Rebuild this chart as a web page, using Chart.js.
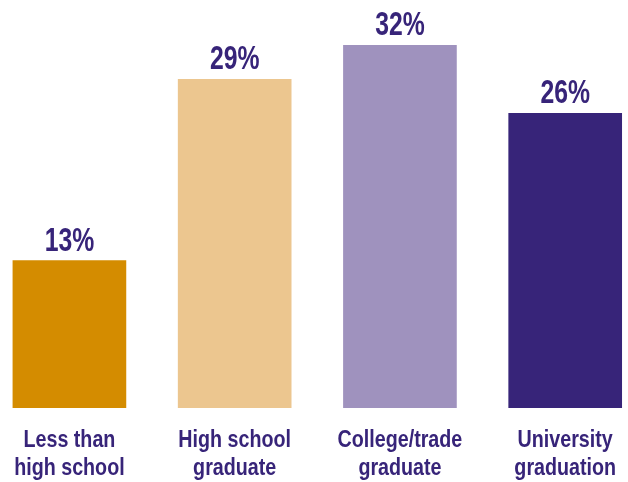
<!DOCTYPE html>
<html>
<head>
<meta charset="utf-8">
<script src="https://cdn.jsdelivr.net/npm/chart.js@4/dist/chart.umd.min.js"></script>
<style>
  html, body { margin: 0; padding: 0; background: #fff; }
  #wrap { width: 628px; height: 482px; }
</style>
</head>
<body>
<div id="wrap"><canvas id="bars"></canvas></div>
<script>
const categories = [
  ['Less than', 'high school'],
  ['High school', 'graduate'],
  ['College/trade', 'graduate'],
  ['University', 'graduation']
];
const shares = [13, 29, 32, 26];
const barColors = ['#D48C00', '#ECC68F', '#9F92BE', '#372479'];

const textColor = '#372479';
const fontFamily = "'Liberation Sans', Arial, sans-serif";

// no condensed face installed, so squeeze the text horizontally
function narrowText(ctx, text, x, y, squeeze) {
  ctx.save();
  ctx.translate(x, y);
  ctx.scale(squeeze, 1);
  ctx.fillText(text, 0, 0);
  ctx.restore();
}

// percent labels above bars + two-line category labels under them
const barLabels = {
  id: 'barLabels',
  afterDatasetsDraw(chart) {
    const ctx = chart.ctx;
    const meta = chart.getDatasetMeta(0);
    const xScale = chart.scales.x;
    const base = chart.chartArea.bottom;
    ctx.save();
    ctx.fillStyle = textColor;
    ctx.textAlign = 'center';
    ctx.textBaseline = 'alphabetic';

    ctx.font = 'bold 33px ' + fontFamily;
    meta.data.forEach((bar, i) => {
      narrowText(ctx, shares[i] + '%', bar.x, bar.y - 10, 0.75);
    });

    ctx.font = 'bold 24px ' + fontFamily;
    categories.forEach((lines, i) => {
      const x = xScale.getPixelForValue(i);
      lines.forEach((line, j) => {
        narrowText(ctx, line, x, base + 39 + j * 28, 0.82);
      });
    });
    ctx.restore();
  }
};

new Chart(document.getElementById('bars'), {
  type: 'bar',
  data: {
    datasets: [{
      // category index on x, share on y
      data: shares.map((v, i) => ({ x: i, y: v })),
      backgroundColor: barColors,
      borderWidth: 0,
      barThickness: 113
    }]
  },
  options: {
    responsive: true,
    maintainAspectRatio: false,
    animation: false,
    layout: { padding: { top: 0, bottom: 74, left: 0, right: 0 } },
    plugins: {
      legend: { display: false },
      tooltip: { enabled: false }
    },
    scales: {
      x: {
        type: 'linear',
        display: false,
        offset: false,
        min: -0.42,
        max: 3.38
      },
      y: {
        display: false,
        min: 0,
        max: 36
      }
    }
  },
  plugins: [barLabels]
});
</script>
</body>
</html>
